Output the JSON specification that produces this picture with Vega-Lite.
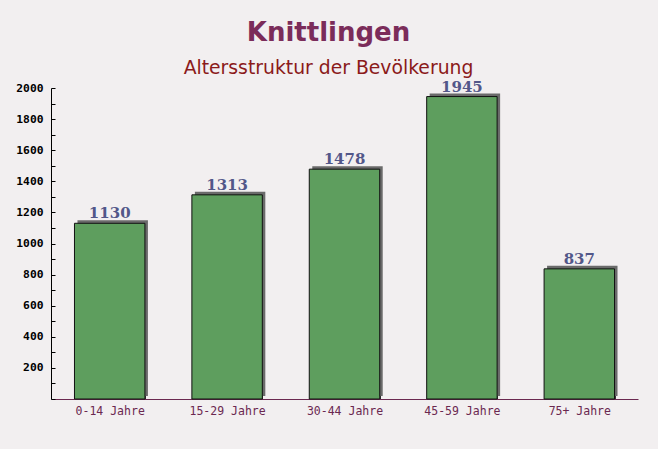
{
  "$schema": "https://vega.github.io/schema/vega-lite/v6.json",
  "autosize": {"type": "none"},
  "width": 587,
  "height": 311,
  "padding": {"left": 51, "top": 88, "right": 20, "bottom": 50},
  "background": "#f2eff0",
  "title": {
    "text": "Knittlingen",
    "subtitle": "Altersstruktur der Bevölkerung",
    "anchor": "middle",
    "dx": -16,
    "offset": 2,
    "font": "DejaVu Sans",
    "fontSize": 26,
    "fontWeight": "bold",
    "color": "#7b2c5a",
    "subtitleFont": "DejaVu Sans",
    "subtitleFontSize": 18.8,
    "subtitleColor": "#8b1a1a",
    "subtitlePadding": 13
  },
  "data": {
    "values": [
      {"group": "0-14 Jahre", "value": 1130},
      {"group": "15-29 Jahre", "value": 1313},
      {"group": "30-44 Jahre", "value": 1478},
      {"group": "45-59 Jahre", "value": 1945},
      {"group": "75+ Jahre", "value": 837}
    ]
  },
  "encoding": {
    "x": {
      "field": "group",
      "type": "nominal",
      "sort": null,
      "scale": {"paddingInner": 0.4, "paddingOuter": 0.2},
      "axis": {
        "title": null,
        "labelAngle": 0,
        "labelFont": "DejaVu Sans Mono",
        "labelFontSize": 11.5,
        "labelColor": "#6b2850",
        "labelPadding": 10,
        "tickBand": "extent",
        "tickSize": -4,
        "tickColor": "#333333",
        "domainColor": "#6b2850"
      }
    },
    "y": {
      "field": "value",
      "type": "quantitative",
      "scale": {"domain": [0, 2000], "nice": false},
      "axis": {
        "title": null,
        "values": [0, 100, 200, 300, 400, 500, 600, 700, 800, 900, 1000, 1100, 1200, 1300, 1400, 1500, 1600, 1700, 1800, 1900, 2000],
        "labelExpr": "datum.value % 200 == 0 && datum.value > 0 ? datum.value : ''",
        "labelFont": "DejaVu Sans Mono",
        "labelFontWeight": "bold",
        "labelFontSize": 11.3,
        "labelColor": "#000000",
        "labelPadding": 12,
        "tickSize": -4,
        "tickColor": "#000000",
        "domainColor": "#000000",
        "grid": false
      }
    }
  },
  "layer": [
    {
      "mark": {"type": "bar", "color": "#6a6a6a", "xOffset": 3, "yOffset": -3}
    },
    {
      "mark": {"type": "bar", "color": "#5e9e5e", "stroke": "#111111", "strokeWidth": 1}
    },
    {
      "mark": {
        "type": "text",
        "baseline": "alphabetic",
        "dy": -5,
        "font": "DejaVu Serif",
        "fontWeight": "bold",
        "fontSize": 15,
        "color": "#525789"
      },
      "encoding": {"text": {"field": "value", "type": "quantitative"}}
    }
  ],
  "config": {"view": {"stroke": null}}
}
